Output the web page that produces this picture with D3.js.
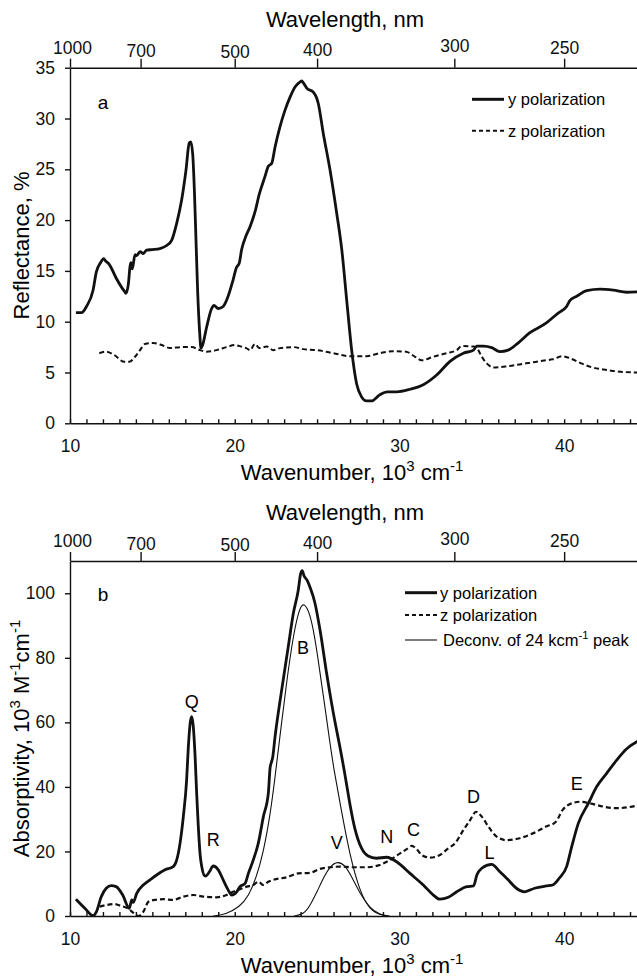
<!DOCTYPE html>
<html>
<head>
<meta charset="utf-8">
<script src="https://cdn.jsdelivr.net/npm/d3@7"></script>
<style>
  html, body { margin: 0; padding: 0; background: #fff; }
  svg { display: block; font-family: "Liberation Sans", Arial, sans-serif; }
  .axis path, .axis line { stroke: #111; stroke-width: 1.4; }
  .axis text { font-size: 17.5px; fill: #111; font-family: "Liberation Sans", Arial, sans-serif; }
</style>
</head>
<body>
<svg id="chart" width="637" height="979"></svg>
<script>
// ---- wavenumber axes (10^3 cm^-1) and wavelength ticks (nm) ----
const wavenumberMajor = [10, 20, 30, 40];
const wavelengthTicks = [1000, 700, 500, 400, 300, 250];
const reflectanceTicks = [0, 5, 10, 15, 20, 25, 30, 35];
const absorptivityTicks = [0, 20, 40, 60, 80, 100];

// ---- (a) reflectance, % ----
const reflectY = [
  [10.36,10.9],[10.71,10.9],[11.0,11.5],[11.4,13.1],[11.6,14.9],[11.85,15.8],[12.05,16.2],[12.15,16.0],
  [12.4,15.6],[12.8,14.3],[13.3,13.0],[13.4,12.8],[13.55,13.8],[13.64,15.4],[13.7,15.8],[13.78,15.2],
  [13.95,16.6],[14.05,16.5],[14.25,16.9],[14.45,16.7],[14.65,17.05],[15.0,17.1],[15.46,17.2],[15.87,17.5],
  [16.17,18.0],[16.48,19.7],[16.78,22.0],[17.04,24.9],[17.24,27.6],[17.33,27.7],[17.45,26.5],[17.55,23.0],
  [17.65,18.0],[17.75,13.0],[17.87,9.0],[17.95,7.4],[18.05,7.7],[18.3,9.5],[18.6,11.3],[18.74,11.6],
  [19.0,11.3],[19.3,11.5],[19.6,12.5],[19.9,14.1],[20.1,15.3],[20.28,15.8],[20.42,17.1],[20.7,18.5],
  [20.93,19.35],[21.23,20.8],[21.5,22.6],[21.84,24.3],[22.04,25.3],[22.25,25.6],[22.45,27.2],[22.75,29.2],
  [23.05,30.8],[23.36,32.1],[23.66,33.1],[23.97,33.6],[24.07,33.7],[24.17,33.5],[24.37,33.0],[24.77,32.6],
  [24.98,32.0],[25.07,31.5],[25.38,28.5],[25.79,24.9],[26.19,20.7],[26.5,17.1],[26.8,12.1],[27.1,7.2],
  [27.4,3.9],[27.7,2.6],[28.0,2.2],[28.3,2.2],[28.8,2.8],[29.27,3.1],[29.83,3.1],[30.64,3.35],
  [31.45,3.8],[32.26,4.75],[33.07,6.1],[33.88,6.9],[34.5,7.2],[34.7,7.6],[35.1,7.6],[35.6,7.45],
  [36.1,7.05],[36.6,7.2],[37.2,7.9],[37.9,8.9],[38.9,9.85],[39.6,10.8],[40.15,11.5],[40.36,12.1],
  [40.76,12.5],[41.37,13.05],[42.18,13.2],[42.99,13.1],[43.8,12.9],[44.6,12.95]
];
const reflectZ = [
  [11.78,6.9],[12.2,7.05],[12.7,6.7],[13.3,6.05],[13.6,6.05],[13.95,6.55],[14.25,7.2],[14.55,7.8],
  [15.06,7.9],[15.57,7.7],[16.07,7.4],[16.78,7.5],[17.39,7.5],[17.9,7.2],[18.3,7.05],[18.9,7.2],
  [19.5,7.5],[20.0,7.7],[20.4,7.55],[20.7,7.4],[20.93,7.2],[21.23,7.8],[21.5,7.4],[21.94,7.55],
  [22.34,7.2],[22.75,7.4],[23.56,7.5],[24.17,7.3],[24.98,7.2],[25.99,6.9],[27.0,6.6],[28.0,6.6],
  [28.8,6.9],[29.6,7.1],[30.4,7.05],[30.95,6.55],[31.35,6.2],[32.06,6.55],[32.87,6.9],[33.48,7.2],
  [33.78,7.6],[34.5,7.55],[34.7,7.4],[35.0,6.55],[35.3,5.9],[35.7,5.5],[36.5,5.6],[37.7,5.9],
  [38.9,6.2],[39.3,6.3],[39.9,6.6],[40.36,6.4],[40.97,5.95],[41.6,5.55],[42.6,5.25],[43.6,5.05],[44.6,5.0]
];

// ---- (b) absorptivity, 10^3 M^-1 cm^-1 ----
const absorbY = [
  [10.36,5.2],[10.9,2.4],[11.4,0.1],[11.6,1.3],[11.9,6.0],[12.2,8.6],[12.5,9.4],[12.8,9.1],[13.2,6.5],
  [13.6,2.4],[13.75,5.0],[13.84,4.2],[14.05,7.0],[14.45,9.6],[14.86,11.2],[15.26,12.7],[15.77,14.3],
  [16.27,15.3],[16.48,17.4],[16.68,22.5],[16.88,30.8],[17.08,42.1],[17.18,52.0],[17.3,60.0],[17.39,61.8],
  [17.48,59.0],[17.59,50.0],[17.69,38.0],[17.79,27.7],[17.9,19.0],[18.0,15.3],[18.15,12.6],[18.26,12.4],
  [18.46,13.7],[18.7,15.5],[19.0,14.3],[19.3,11.2],[19.6,8.1],[19.82,6.5],[20.12,7.5],[20.32,9.1],
  [20.63,10.1],[20.83,13.2],[21.13,17.4],[21.43,22.5],[21.74,30.8],[22.04,38.0],[22.15,46.0],[22.22,47.5],
  [22.3,49.0],[22.45,55.6],[22.85,70.0],[23.25,83.4],[23.56,93.8],[23.86,101.0],[24.0,106.0],[24.1,107.0],
  [24.2,105.5],[24.4,104.0],[24.6,101.5],[24.87,97.0],[25.18,88.6],[25.58,75.2],[25.99,62.8],[26.4,52.0],
  [26.6,46.5],[26.8,40.5],[27.0,34.5],[27.3,27.0],[27.7,21.0],[28.1,18.6],[28.6,17.9],[29.23,18.2],
  [29.83,16.8],[30.64,13.2],[31.45,9.6],[32.06,6.5],[32.46,5.2],[32.97,5.8],[33.48,7.5],[34.09,9.1],
  [34.5,9.3],[34.7,12.7],[35.0,14.8],[35.6,16.0],[36.1,13.7],[36.6,11.2],[37.1,8.6],[37.6,7.5],
  [38.2,8.6],[38.9,9.3],[39.3,9.6],[39.7,11.7],[40.15,15.3],[40.46,21.5],[40.86,28.7],[41.47,34.9],
  [41.98,40.1],[42.58,44.2],[43.19,48.3],[43.8,51.8],[44.6,54.5]
];
const absorbZ = [
  [11.8,2.9],[12.2,3.4],[12.7,3.7],[13.1,3.1],[13.5,2.4],[13.85,1.0],[14.15,0.0],[14.45,1.3],[14.76,4.4],
  [15.16,5.0],[15.67,5.2],[16.27,5.0],[16.88,6.0],[17.49,6.5],[18.1,6.0],[18.9,5.8],[19.5,6.5],
  [19.9,7.5],[20.32,8.3],[20.73,9.1],[21.13,9.6],[21.43,10.6],[21.74,9.6],[22.04,10.6],[22.34,11.2],
  [23.16,12.0],[23.86,13.2],[24.57,13.4],[25.18,14.6],[25.79,15.1],[26.4,15.3],[27.2,15.1],[28.0,15.1],
  [28.8,15.8],[29.43,17.4],[30.04,19.4],[30.44,20.7],[30.75,21.7],[31.05,20.7],[31.35,18.9],[31.86,18.1],
  [32.46,18.9],[32.97,21.0],[33.37,22.5],[33.88,26.6],[34.29,29.7],[34.65,32.3],[35.0,30.8],[35.4,27.7],
  [35.9,24.6],[36.5,23.5],[37.3,24.1],[38.1,25.6],[38.9,27.7],[39.5,29.2],[39.9,32.8],[40.36,34.7],
  [40.97,35.4],[41.57,34.9],[42.38,33.9],[43.19,33.4],[44.6,34.4]
];
// deconvolution of the 24 kcm^-1 band into B and V components
const deconvB = [
  [18.7,0.0],[19.5,0.6],[20.3,2.9],[20.83,6.0],[21.33,12.2],[21.74,19.8],[22.14,30.8],[22.45,43.0],
  [22.8,58.0],[23.16,73.0],[23.56,87.0],[23.86,94.0],[24.1,97.0],[24.4,95.8],[24.7,91.0],[25.0,82.0],
  [25.4,67.5],[25.8,53.0],[26.0,46.0],[26.5,32.0],[27.0,18.5],[27.6,7.5],[28.2,1.9],[28.9,0.2],[29.4,0.0]
];
const deconvV = [
  [23.6,0.0],[24.2,0.5],[24.6,3.5],[25.0,7.5],[25.4,12.0],[25.8,15.5],[26.25,17.0],[26.7,15.8],
  [27.1,12.2],[27.6,7.0],[28.2,2.4],[28.8,0.5],[29.3,0.0]
];
// band letters: [label, wavenumber, absorptivity]
const bandLabels = [
  ["Q",17.39,66.3],["R",18.7,23.6],["B",24.15,82.9],["V",26.2,22.6],["N",29.23,24.6],
  ["C",30.85,26.6],["D",34.5,37.0],["L",35.47,19.4],["E",40.76,40.9]
];

const svg = d3.select("#chart");
const FONT = '"Liberation Sans", Arial, sans-serif';
const TITLE_SIZE = 22;
const LEGEND_SIZE = 16.5;

const x = d3.scaleLinear().domain([10, 45]).range([70, 646.5]);

// hand-set vertical stagger of the wavelength labels (px)
const wavelengthLabelShift = { 1000: 0, 700: 3, 500: 4, 400: 2, 300: -2, 250: 0 };

function supText(sel, parts, size) {
  // parts: array of [text, isSuperscript]
  let lastSup = false;
  parts.forEach(([t, sup]) => {
    const ts = sel.append("tspan").text(t);
    if (sup) ts.attr("font-size", size * 0.68).attr("dy", lastSup ? 0 : -size * 0.42);
    else ts.attr("dy", lastSup ? size * 0.42 : 0);
    lastSup = sup;
  });
}

function panel(opts) {
  const y = d3.scaleLinear().domain(opts.yDomain).range([opts.bottom, opts.top]);
  const g = svg.append("g");

  // left axis
  g.append("g").attr("class", "axis")
    .attr("transform", `translate(${x(10)},0)`)
    .call(d3.axisLeft(y).tickValues(opts.yTicks).tickSizeInner(5).tickSizeOuter(0).tickPadding(10));

  // bottom axis: minor ticks every unit, labels every 10
  g.append("g").attr("class", "axis")
    .attr("transform", `translate(0,${opts.bottom})`)
    .call(d3.axisBottom(x).tickValues(d3.range(10, 46, 1)).tickSizeInner(-4).tickSizeOuter(0).tickPadding(16.5)
      .tickFormat(d => wavenumberMajor.includes(d) ? d : ""));

  // top axis: wavelength in nm
  const top = g.append("g").attr("class", "axis")
    .attr("transform", `translate(0,${opts.top})`)
    .call(d3.axisTop(x).tickValues(wavelengthTicks.map(l => 1e4 / l)).tickSizeInner(9).tickSizeOuter(0).tickPadding(5)
      .tickFormat((d, i) => wavelengthTicks[i]));
  top.selectAll(".tick text")
    .attr("transform", (d, i) => `translate(${i === 0 ? 2 : 0},${wavelengthLabelShift[wavelengthTicks[i]]})`);

  // axis titles
  g.append("text").attr("x", 345).attr("y", opts.top - 41)
    .attr("text-anchor", "middle").attr("font-size", TITLE_SIZE).attr("font-family", FONT)
    .text("Wavelength, nm");

  const bt = g.append("text").attr("x", 352).attr("y", opts.bottom + 57)
    .attr("text-anchor", "middle").attr("font-size", TITLE_SIZE).attr("font-family", FONT);
  supText(bt, [["Wavenumber, 10", false], ["3", true], [" cm", false], ["-1", true]], TITLE_SIZE);

  const lt = g.append("text")
    .attr("transform", `translate(29,${(opts.top + opts.bottom) / 2}) rotate(-90)`)
    .attr("text-anchor", "middle").attr("font-size", TITLE_SIZE).attr("font-family", FONT);
  supText(lt, opts.yTitle, TITLE_SIZE);

  // panel letter
  g.append("text").attr("x", x(12)).attr("y", y(opts.letterY))
    .attr("text-anchor", "middle").attr("dominant-baseline", "central")
    .attr("font-size", 19).attr("font-family", FONT).text(opts.letter);

  const clipId = "clip-" + opts.letter;
  svg.append("clipPath").attr("id", clipId)
    .append("rect").attr("x", x(10)).attr("y", opts.top - 2)
    .attr("width", x(45) - x(10)).attr("height", opts.bottom - opts.top + 2);
  const plot = g.append("g").attr("clip-path", `url(#${clipId})`);
  const line = d3.line().x(d => x(d[0])).y(d => y(d[1])).curve(d3.curveMonotoneX);
  return { g, y, plot, line };
}

// ---- panel a ----
const A = panel({
  yDomain: [0, 35], top: 67.7, bottom: 423.3, yTicks: reflectanceTicks,
  yTitle: [["Reflectance, %", false]], letter: "a", letterY: 31.6
});
A.plot.append("path").datum(reflectZ).attr("d", A.line)
  .attr("fill", "none").attr("stroke", "#111").attr("stroke-width", 2).attr("stroke-dasharray", "5,3");
A.plot.append("path").datum(reflectY).attr("d", A.line)
  .attr("fill", "none").attr("stroke", "#111").attr("stroke-width", 2.8).attr("stroke-linejoin", "round");

// legend a
const legA = svg.append("g").attr("font-family", FONT).attr("font-size", LEGEND_SIZE);
legA.append("line").attr("x1", 472).attr("x2", 504).attr("y1", 99.3).attr("y2", 99.3)
  .attr("stroke", "#111").attr("stroke-width", 3);
legA.append("text").attr("x", 508).attr("y", 99.3).attr("dominant-baseline", "central").text("y polarization");
legA.append("line").attr("x1", 472).attr("x2", 504).attr("y1", 130.7).attr("y2", 130.7)
  .attr("stroke", "#111").attr("stroke-width", 2).attr("stroke-dasharray", "4,3");
legA.append("text").attr("x", 508).attr("y", 130.7).attr("dominant-baseline", "central").text("z polarization");

// ---- panel b ----
const B = panel({
  yDomain: [0, 110], top: 561, bottom: 916, yTicks: absorptivityTicks,
  yTitle: [["Absorptivity, 10", false], ["3", true], [" M", false], ["-1", true], ["cm", false], ["-1", true]],
  letter: "b", letterY: 99.5
});
const smooth = d3.line().x(d => x(d[0])).y(d => B.y(d[1])).curve(d3.curveBasis);
B.plot.append("path").datum(deconvB).attr("d", smooth)
  .attr("fill", "none").attr("stroke", "#111").attr("stroke-width", 1.1);
B.plot.append("path").datum(deconvV).attr("d", smooth)
  .attr("fill", "none").attr("stroke", "#111").attr("stroke-width", 1.1);
B.plot.append("path").datum(absorbZ).attr("d", B.line)
  .attr("fill", "none").attr("stroke", "#111").attr("stroke-width", 2.2).attr("stroke-dasharray", "5,3");
B.plot.append("path").datum(absorbY).attr("d", B.line)
  .attr("fill", "none").attr("stroke", "#111").attr("stroke-width", 2.8).attr("stroke-linejoin", "round");

B.g.selectAll("text.band").data(bandLabels).join("text").attr("class", "band")
  .attr("x", d => x(d[1])).attr("y", d => B.y(d[2]))
  .attr("text-anchor", "middle").attr("dominant-baseline", "central")
  .attr("font-size", 18).attr("font-family", FONT).text(d => d[0]);

// legend b
const legB = svg.append("g").attr("font-family", FONT).attr("font-size", LEGEND_SIZE);
legB.append("line").attr("x1", 405).attr("x2", 437).attr("y1", 592.7).attr("y2", 592.7)
  .attr("stroke", "#111").attr("stroke-width", 3);
legB.append("text").attr("x", 440).attr("y", 592.7).attr("dominant-baseline", "central").text("y polarization");
legB.append("line").attr("x1", 405).attr("x2", 437).attr("y1", 615).attr("y2", 615)
  .attr("stroke", "#111").attr("stroke-width", 2).attr("stroke-dasharray", "4,3");
legB.append("text").attr("x", 440).attr("y", 615).attr("dominant-baseline", "central").text("z polarization");
legB.append("line").attr("x1", 405).attr("x2", 437).attr("y1", 640).attr("y2", 640)
  .attr("stroke", "#111").attr("stroke-width", 1.1);
const dl = legB.append("text").attr("x", 443).attr("y", 646);
supText(dl, [["Deconv. of 24 kcm", false], ["-1", true], [" peak", false]], LEGEND_SIZE);
</script>
</body>
</html>
